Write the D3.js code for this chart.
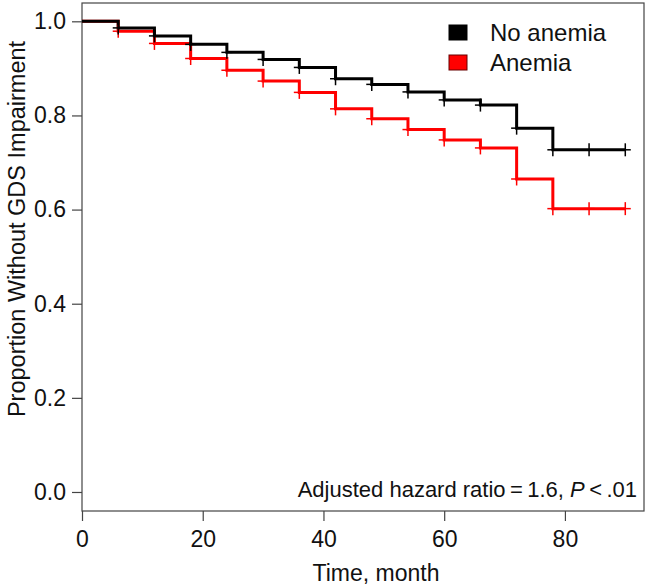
<!DOCTYPE html>
<html>
<head>
<meta charset="utf-8">
<script src="https://cdn.jsdelivr.net/npm/d3@7"></script>
<style>
  html, body { margin: 0; padding: 0; background: #fff; }
  svg { display: block; }
  text { font-family: "Liberation Sans", Arial, Helvetica, sans-serif; fill: #111; }
</style>
</head>
<body>
<svg id="chart" width="650" height="587"></svg>
<script>
// ---- Data ----
const times = [0, 6, 12, 18, 24, 30, 36, 42, 48, 54, 60, 66, 72, 78, 84, 90];
const noAnemia = [1.0, 0.986, 0.969, 0.951, 0.934, 0.919, 0.902, 0.878, 0.866, 0.850, 0.833, 0.822, 0.773, 0.727, 0.727, 0.727];
const anemia   = [1.0, 0.979, 0.953, 0.921, 0.896, 0.873, 0.849, 0.814, 0.793, 0.770, 0.748, 0.731, 0.665, 0.602, 0.602, 0.602];
const censorTimes = [6, 12, 18, 24, 30, 36, 42, 48, 54, 60, 66, 72, 78, 84, 90];
const xTicks = [0, 20, 40, 60, 80];
const yTicks = [0.0, 0.2, 0.4, 0.6, 0.8, 1.0];
const seriesNames = ["No anemia", "Anemia"];
const seriesColors = ["#000000", "#ff0000"];

// ---- Layout ----
const svg = d3.select("#chart");
const pLeft = 82, pRight = 644, pTop = 3, pBottom = 511;

const x = d3.scaleLinear().domain([0, 93.1]).range([pLeft, pRight]);
const y = d3.scaleLinear().domain([-0.0404, 1.0389]).range([pBottom, pTop]);

// Plot box
svg.append("rect")
  .attr("x", pLeft).attr("y", pTop)
  .attr("width", pRight - pLeft).attr("height", pBottom - pTop)
  .attr("fill", "none").attr("stroke", "#444").attr("stroke-width", 1.2);

// Y axis ticks + labels
const yAxis = d3.axisLeft(y).tickValues(yTicks).tickFormat(d3.format(".1f")).tickSize(10).tickPadding(6);
const gy = svg.append("g").attr("transform", `translate(${pLeft},0)`).call(yAxis);
gy.select(".domain").remove();
gy.selectAll(".tick line").attr("stroke", "#444").attr("stroke-width", 1.2);
gy.selectAll(".tick text").style("font-size", "23px").attr("fill", "#111")
  .style("font-family", "'Liberation Sans', Arial, Helvetica, sans-serif");

// X axis ticks + labels
const xAxis = d3.axisBottom(x).tickValues(xTicks).tickFormat(d3.format("d")).tickSize(10).tickPadding(10);
const gx = svg.append("g").attr("transform", `translate(0,${pBottom})`).call(xAxis);
gx.select(".domain").remove();
gx.selectAll(".tick line").attr("stroke", "#444").attr("stroke-width", 1.2);
gx.selectAll(".tick text").style("font-size", "23px").attr("fill", "#111")
  .style("font-family", "'Liberation Sans', Arial, Helvetica, sans-serif");

// Axis titles
svg.append("text")
  .attr("x", 376).attr("y", 581)
  .attr("text-anchor", "middle")
  .style("font-size", "23px")
  .text("Time, month");

svg.append("text")
  .attr("transform", "translate(25,229) rotate(-90)")
  .attr("text-anchor", "middle")
  .style("font-size", "23.5px")
  .text("Proportion Without GDS Impairment");

// Curves
const line = d3.line()
  .x(d => x(d[0]))
  .y(d => y(d[1]))
  .curve(d3.curveStepAfter);

const seriesData = [noAnemia, anemia];
// draw red first, black on top
[1, 0].forEach(i => {
  const pts = times.map((t, k) => [t, seriesData[i][k]]);
  svg.append("path")
    .datum(pts)
    .attr("d", line)
    .attr("fill", "none")
    .attr("stroke", seriesColors[i])
    .attr("stroke-width", 3);
});

// Censor marks "+"
const ms = 5.5;
[1, 0].forEach(i => {
  const g = svg.append("g").attr("stroke", seriesColors[i]).attr("stroke-width", 1.5);
  censorTimes.forEach(t => {
    const k = times.indexOf(t);
    const cx = x(t), cy = y(seriesData[i][k]);
    g.append("line").attr("x1", cx - ms).attr("x2", cx + ms).attr("y1", cy).attr("y2", cy);
    g.append("line").attr("x1", cx).attr("x2", cx).attr("y1", cy - ms - 1).attr("y2", cy + ms + 1);
  });
});

// Legend
const legend = svg.append("g");
seriesNames.forEach((name, i) => {
  legend.append("rect")
    .attr("x", 449).attr("y", 25 + i * 30)
    .attr("width", 18).attr("height", 15)
    .attr("fill", seriesColors[i])
    .attr("stroke", i === 0 ? "#000" : "#600")
    .attr("stroke-width", 1);
  legend.append("text")
    .attr("x", 490).attr("y", 41 + i * 30)
    .style("font-size", "24px")
    .text(name);
});

// Annotation
const ann = svg.append("text")
  .attr("x", 637).attr("y", 497)
  .attr("text-anchor", "end")
  .style("font-size", "22px");
ann.append("tspan").text("Adjusted hazard ratio\u2009=\u20091.6, ");
ann.append("tspan").style("font-style", "italic").text("P");
ann.append("tspan").text("\u2009<\u2009.01");
</script>
</body>
</html>
